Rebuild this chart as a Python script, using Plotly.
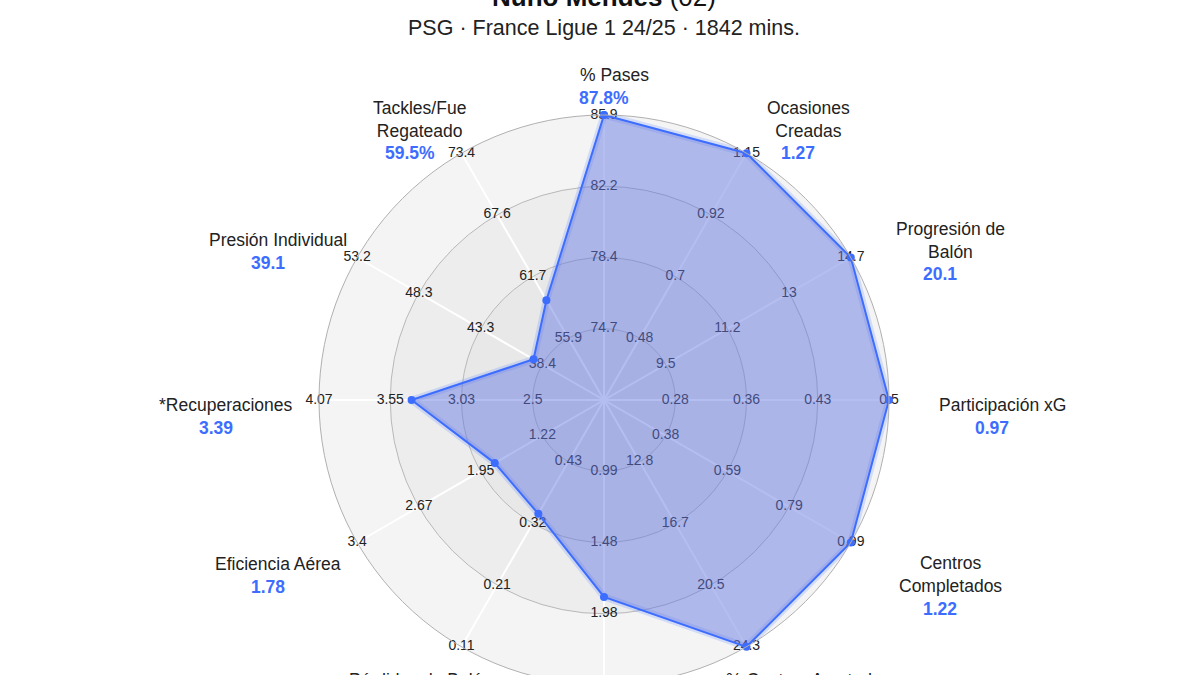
import numpy as np
import plotly.graph_objects as go

# player profile
player = 'Nuno Mendes'
number = '(02)'
subtitle = 'PSG · France Ligue 1 24/25 · 1842 mins.'

categories = ['% Pases', 'Ocasiones<br>Creadas', 'Progresión de<br>Balón', 'Participación xG',
              'Centros<br>Completados', '% Centros Acertados', 'Regates Completados',
              'Pérdidas de Balón', 'Eficiencia Aérea', '*Recuperaciones',
              'Presión Individual', 'Tackles/Fue<br>Regateado']
values = [87.8, 1.27, 20.1, 0.97, 1.22, 27.4, 1.86, 0.34, 1.78, 3.39, 39.1, 59.5]
value_labels = ['87.8%', '1.27', '20.1', '0.97', '1.22', '27.4%', '1.86', '0.34',
                '1.78', '3.39', '39.1', '59.5%']

# tick labels of each spoke, from the inner ring to the outer one
axis_ticks = [
    ['74.7', '78.4', '82.2', '85.9'],
    ['0.48', '0.7', '0.92', '1.15'],
    ['9.5', '11.2', '13', '14.7'],
    ['0.28', '0.36', '0.43', '0.5'],
    ['0.38', '0.59', '0.79', '0.99'],
    ['12.8', '16.7', '20.5', '24.3'],
    ['0.99', '1.48', '1.98', '2.47'],
    ['0.43', '0.32', '0.21', '0.11'],
    ['1.22', '1.95', '2.67', '3.4'],
    ['2.5', '3.03', '3.55', '4.07'],
    ['38.4', '43.3', '48.3', '53.2'],
    ['55.9', '61.7', '67.6', '73.4'],
]
rings = [0.25, 0.5, 0.75, 1.0]

BLUE = '#3d6dff'
FONT = 'Arial, Liberation Sans, sans-serif'
W, H = 1200, 800
SHIFT = 50              # page is scrolled up by this many px
cx, cy, R = 604, 450, 285

n = len(categories)
angles = [i * 360 / n for i in range(n)]


def scale(v, ticks):
    t = [float(x) for x in ticks]
    r = rings[0] + (v - t[0]) / (t[-1] - t[0]) * (rings[-1] - rings[0])
    return min(max(r, 0), 1)


r_pts = [scale(v, t) for v, t in zip(values, axis_ticks)]

fig = go.Figure()

# background bands (bottom polar)
band_edges = [0, 0.25, 0.5, 0.75, 1.0]
band_colors = ['#e4e4e4', '#e8e8e8', '#ededed', '#f4f4f4']
for i, col in enumerate(band_colors):
    fig.add_trace(go.Barpolar(r=[band_edges[i + 1] - band_edges[i]], base=[band_edges[i]],
                              theta=[0], width=[360], marker_color=col, marker_line_width=0,
                              hoverinfo='skip', subplot='polar'))

# tick labels along each spoke
tr, tt, tx = [], [], []
for ang, ticks in zip(angles, axis_ticks):
    for lv, lab in zip(rings, ticks):
        tr.append(lv)
        tt.append(ang)
        tx.append(lab)
fig.add_trace(go.Scatterpolar(r=tr, theta=tt, text=tx, mode='text',
                              textfont=dict(size=14, color='#222', family=FONT),
                              hoverinfo='skip', subplot='polar2', cliponaxis=False))

# player polygon
rr = r_pts + r_pts[:1]
th = angles + angles[:1]
fig.add_trace(go.Scatterpolar(r=rr, theta=th, mode='lines',
                              line=dict(color='rgba(61,109,255,0.18)', width=7),
                              hoverinfo='skip', subplot='polar2'))
fig.add_trace(go.Scatterpolar(r=rr, theta=th, mode='lines+markers', fill='toself',
                              fillcolor='rgba(100,120,225,0.48)',
                              line=dict(color=BLUE, width=2),
                              marker=dict(size=8, color=BLUE),
                              subplot='polar2', cliponaxis=False))

# category names and values
annotations = []
for i, ang in enumerate(angles):
    phi = np.radians(90 - ang)
    c, s = np.cos(phi), np.sin(phi)
    nl = categories[i].count('<br>') + 1
    px = cx + 388 * c
    if s > 0.01:
        name_y = cy + 5 - 330 * s
    elif s < -0.01:
        name_y = cy + 5 - 317 * s + (nl - 1) * 11
    else:
        name_y = cy + 5
    val_y = name_y + (nl - 1) * 11 + 23
    annotations.append(dict(x=(px + 10) / W, y=1 - name_y / H, xref='paper', yref='paper',
                            text=categories[i], showarrow=False,
                            xanchor='center', yanchor='middle',
                            font=dict(size=17.5, color='#222', family=FONT)))
    annotations.append(dict(x=px / W, y=1 - val_y / H, xref='paper', yref='paper',
                            text='<b>' + value_labels[i] + '</b>', showarrow=False,
                            xanchor='center', yanchor='middle',
                            font=dict(size=17.5, color=BLUE, family=FONT)))

annotations.append(dict(x=cx / W, y=1 - (SHIFT + 28) / H, xref='paper', yref='paper',
                        text=subtitle, showarrow=False, xanchor='center', yanchor='middle',
                        font=dict(size=21.5, color='#222', family=FONT)))

dom_x = [(cx - R) / W, (cx + R) / W]
dom_y = [1 - (cy + R) / H, 1 - (cy - R) / H]

fig.update_layout(
    width=W, height=H,
    margin=dict(l=0, r=0, t=0, b=0, pad=0),
    paper_bgcolor='white',
    showlegend=False,
    font=dict(family=FONT),
    title=dict(text='<b>' + player + '</b> ' + number, x=cx / W, xanchor='center',
               y=1 - (SHIFT - 3) / H, yanchor='middle', yref='container',
               font=dict(size=26, color='#111', family=FONT)),
    polar=dict(domain=dict(x=dom_x, y=dom_y), bgcolor='white',
               radialaxis=dict(visible=False, range=[0, 1]),
               angularaxis=dict(visible=False, rotation=90, direction='clockwise')),
    polar2=dict(domain=dict(x=dom_x, y=dom_y), bgcolor='rgba(0,0,0,0)',
                radialaxis=dict(range=[0, 1], tickvals=rings, showticklabels=False,
                                ticks='', showline=False, gridcolor='#b8b8b8', gridwidth=1),
                angularaxis=dict(rotation=90, direction='clockwise', tickmode='linear',
                                 tick0=0, dtick=360 / n, showticklabels=False, ticks='',
                                 gridcolor='white', gridwidth=1.5,
                                 linecolor='#b0b0b0', linewidth=1)),
    annotations=annotations,
)

shift_js = ("document.body.style.margin='0';document.body.style.overflow='hidden';"
            "document.getElementById('{plot_id}').style.marginTop='-%dpx';" % SHIFT)
fig.write_html("out.html", post_script=shift_js)
